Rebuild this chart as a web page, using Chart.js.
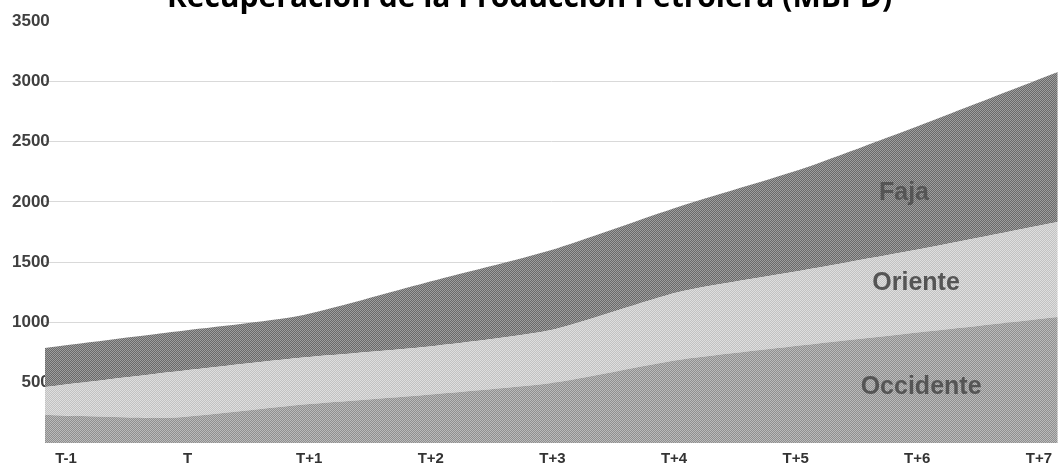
<!DOCTYPE html>
<html>
<head>
<meta charset="utf-8">
<script src="https://cdn.jsdelivr.net/npm/chart.js@4/dist/chart.umd.min.js"></script>
<style>
  body { margin: 0; overflow: hidden; background: #fff; }
  #wrap { position: absolute; left: 0; top: -30px; width: 1059px; height: 498px; }
</style>
</head>
<body>
<div id="wrap"><canvas id="chart"></canvas></div>
<script>
// DATA (MBPD)
const labels = ["T-1", "T", "T+1", "T+2", "T+3", "T+4", "T+5", "T+6", "T+7"];
const occidente = [232, 210, 315, 398, 497, 688, 812, 928, 1045];
const oriente = [232, 379, 390, 398, 440, 562, 622, 697, 787];
const faja = [324, 331, 348, 531, 663, 707, 846, 1045, 1244];

// band captions, in data units of the chart
const captions = [
  { text: "Faja", x: 6.785, y: 2073 },
  { text: "Oriente", x: 6.88, y: 1327 },
  { text: "Occidente", x: 6.92, y: 464 }
];

const ctx = document.getElementById("chart").getContext("2d");

// 2x2 dither like the scanned original
function dither(a, b) {
  const c = document.createElement("canvas");
  c.width = 2; c.height = 2;
  const g = c.getContext("2d");
  g.fillStyle = a; g.fillRect(0, 0, 2, 2);
  g.fillStyle = b; g.fillRect(0, 0, 1, 1); g.fillRect(1, 1, 1, 1);
  return ctx.createPattern(c, "repeat");
}

const toPoints = arr => arr.map((v, i) => ({ x: i, y: v }));

function band(label, values, fill, bg) {
  return {
    label: label,
    data: toPoints(values),
    fill: fill,
    backgroundColor: bg,
    borderWidth: 0,
    pointRadius: 0,
    tension: 0.2
  };
}

const captionPlugin = {
  id: "captions",
  afterDatasetsDraw(chart) {
    const c = chart.ctx;
    const x = chart.scales.x, y = chart.scales.y;
    c.save();
    c.font = "bold 25px 'Liberation Sans', Arial, sans-serif";
    c.fillStyle = "#555555";
    c.textAlign = "center";
    c.textBaseline = "middle";
    captions.forEach(t => {
      c.fillText(t.text, x.getPixelForValue(t.x), y.getPixelForValue(t.y));
    });
    c.restore();
  }
};

new Chart(ctx, {
  type: "line",
  data: {
    datasets: [
      band("Occidente", occidente, "origin", dither("#8f8f8f", "#bababa")),
      band("Oriente", oriente, "-1", dither("#c2c2c2", "#dedede")),
      band("Faja", faja, "-1", dither("#6a6a6a", "#9e9e9e"))
    ]
  },
  options: {
    responsive: true,
    maintainAspectRatio: false,
    animation: false,
    layout: { padding: 0 },
    plugins: {
      legend: { display: false },
      tooltip: { enabled: false },
      title: {
        display: true,
        text: "Recuperación de la Producción Petrolera (MBPD)",
        color: "#000",
        font: { family: "'Open Sans', sans-serif", size: 30, weight: "bold" },
        padding: { top: 10, bottom: 5 }
      }
    },
    scales: {
      x: {
        type: "linear",
        min: 0,
        max: 8,
        display: false
      },
      xl: {
        type: "linear",
        position: "bottom",
        min: -21 / 121.75,
        max: 8 + 19 / 121.75,
        grid: { display: false, drawTicks: false },
        border: { display: false },
        afterFit: s => { s.height = 25; },
        ticks: {
          stepSize: 1,
          includeBounds: false,
          autoSkip: false,
          maxRotation: 0,
          padding: 7,
          color: "#333",
          font: { family: "'Liberation Sans', Arial, sans-serif", size: 15, weight: "bold" },
          callback: v => Number.isInteger(v) ? labels[v] : ""
        }
      },
      y: {
        stacked: true,
        min: 0,
        max: 3500,
        border: { display: false },
        grid: {
          drawTicks: false,
          color: c => (c.tick.value === 0 || c.tick.value === 3500) ? "rgba(0,0,0,0)" : "#d9d9d9"
        },
        afterFit: s => { s.width = 45; },
        ticks: {
          stepSize: 500,
          mirror: true,
          crossAlign: "far",
          padding: -33,
          color: "#404040",
          font: { family: "'Liberation Sans', Arial, sans-serif", size: 17, weight: "bold" },
          callback: v => v === 0 ? "" : v
        }
      }
    }
  },
  plugins: [captionPlugin]
});
</script>
</body>
</html>
